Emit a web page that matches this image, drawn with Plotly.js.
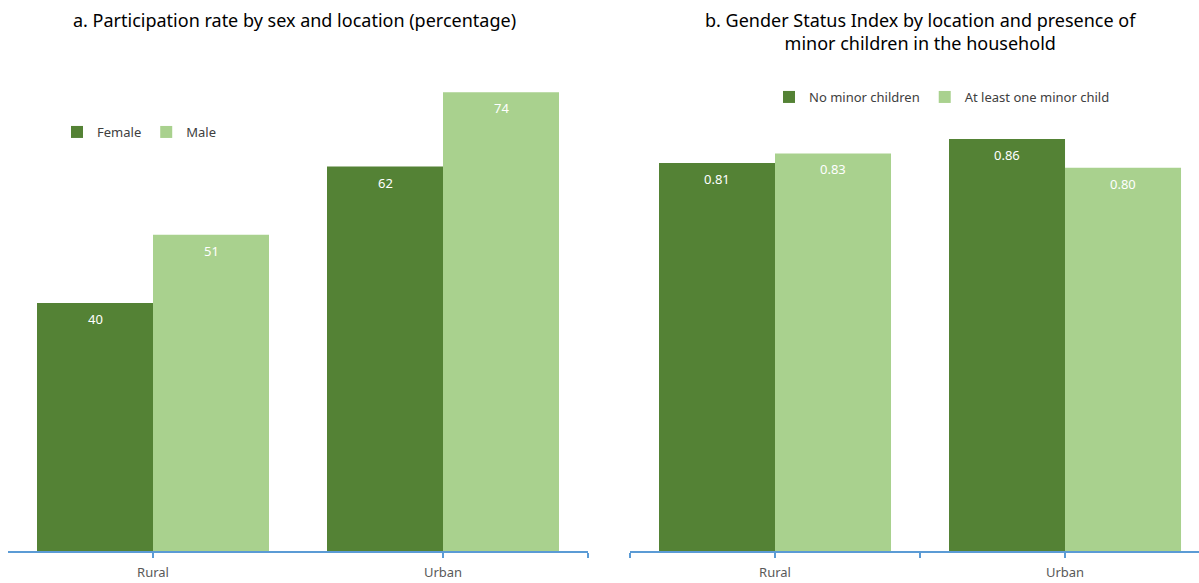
<!DOCTYPE html>
<html>
<head>
<meta charset="utf-8">
<script src="https://cdn.plot.ly/plotly-3.0.1.min.js"></script>
<style>html,body{margin:0;padding:0;background:#fff;}#chart{width:1199px;height:583px;}</style>
</head>
<body>
<div id="chart"></div>
<script>
const locations = ["Rural", "Urban"];
const femaleRate = [40, 62];
const maleRate = [51, 74];
const noMinorChildren = [0.81, 0.86];
const atLeastOneMinorChild = [0.83, 0.80];
const seriesA = ["Female", "Male"];
const seriesB = ["No minor children", "At least one minor child"];

const dark = "#548235", light = "#A9D18E";
const font = "Noto Sans, Open Sans, sans-serif";
const xpos = locations.map((_, i) => i);

const traces = [
  {type: "bar", x: xpos, y: femaleRate, name: seriesA[0], marker: {color: dark}, xaxis: "x", yaxis: "y", legend: "legend", hoverinfo: "none"},
  {type: "bar", x: xpos, y: maleRate, name: seriesA[1], marker: {color: light}, xaxis: "x", yaxis: "y", legend: "legend", hoverinfo: "none"},
  {type: "bar", x: xpos, y: noMinorChildren, name: seriesB[0], marker: {color: dark}, xaxis: "x2", yaxis: "y2", legend: "legend2", hoverinfo: "none"},
  {type: "bar", x: xpos, y: atLeastOneMinorChild, name: seriesB[1], marker: {color: light}, xaxis: "x2", yaxis: "y2", legend: "legend2", hoverinfo: "none"}
];

const annotations = [];
function addLabels(vals, offset, xa, ya, fmt) {
  vals.forEach((v, i) => {
    annotations.push({x: i + offset, y: v, xref: xa, yref: ya, text: fmt(v), showarrow: false,
      yanchor: "top", yshift: -5, font: {family: font, size: 13, color: "#ffffff"}});
  });
}
addLabels(femaleRate, -0.2, "x", "y", v => String(v));
addLabels(maleRate, 0.2, "x", "y", v => String(v));
addLabels(noMinorChildren, -0.2, "x2", "y2", v => v.toFixed(2));
addLabels(atLeastOneMinorChild, 0.2, "x2", "y2", v => v.toFixed(2));

annotations.push({xref: "paper", yref: "paper", x: 294/1199, y: (583-20)/583, text: "a. Participation rate by sex and location (percentage)",
  showarrow: false, xanchor: "center", yanchor: "middle", font: {family: font, size: 18, color: "#000000"}});
annotations.push({xref: "paper", yref: "paper", x: 920/1199, y: (583-32)/583, text: "b. Gender Status Index by location and presence of<br>minor children in the household",
  showarrow: false, xanchor: "center", yanchor: "middle", font: {family: font, size: 18, color: "#000000"}});

const axisLine = "#5B9BD5";
const xCommon = {
  showline: true, linecolor: axisLine, linewidth: 2, showgrid: false, zeroline: false,
  ticks: "outside", ticklen: 5, tickcolor: axisLine, tickwidth: 1.5, ticklabelstandoff: 3,
  tickfont: {family: font, size: 13, color: "#595959"}, fixedrange: true
};

const legendFont = {family: font, size: 13, color: "#404040"};
const layout = {
  width: 1199, height: 583,
  margin: {l: 0, r: 0, t: 0, b: 0},
  paper_bgcolor: "#ffffff", plot_bgcolor: "#ffffff",
  barmode: "group", bargap: 0.2, bargroupgap: 0,
  showlegend: true,
  xaxis: Object.assign({}, xCommon, {domain: [8/1199, 588/1199], range: [-0.5, 1.5], anchor: "y",
    tickvals: [0, 1, 1.5], ticktext: [locations[0], locations[1], ""]}),
  xaxis2: Object.assign({}, xCommon, {domain: [630/1199, 1], range: [-0.5, 1.462], anchor: "y2",
    tickvals: [-0.5, 0, 0.5, 1], ticktext: ["", locations[0], "", locations[1]]}),
  yaxis: {domain: [32/583, (583-55)/583], range: [0, 80], visible: false, fixedrange: true},
  yaxis2: {domain: [32/583, (583-72)/583], range: [0, 1], visible: false, fixedrange: true, anchor: "x2"},
  legend: {orientation: "h", x: 57/1199, y: (583-132)/583, xanchor: "left", yanchor: "middle",
    font: legendFont, bgcolor: "rgba(0,0,0,0)", itemwidth: 30},
  legend2: {orientation: "h", x: 769/1199, y: (583-97)/583, xanchor: "left", yanchor: "middle",
    font: legendFont, bgcolor: "rgba(0,0,0,0)", itemwidth: 30},
  annotations: annotations
};

Plotly.newPlot("chart", traces, layout, {displayModeBar: false, staticPlot: true});
</script>
</body>
</html>
